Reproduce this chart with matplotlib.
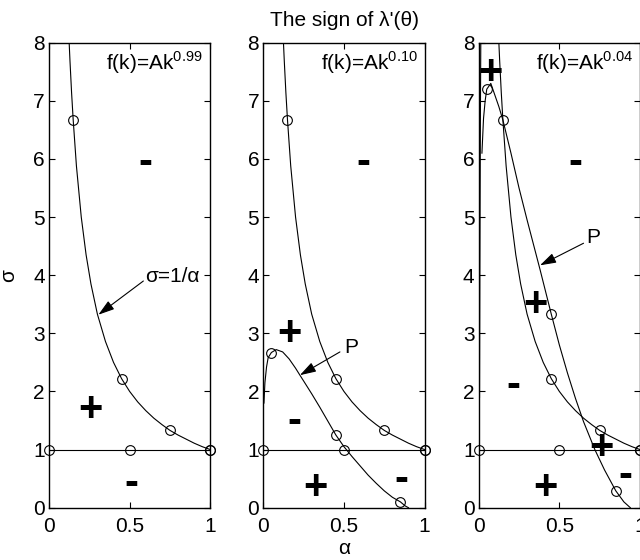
import matplotlib
matplotlib.use("Agg")
import matplotlib.pyplot as plt

plt.rcParams['font.family'] = ['Liberation Sans', 'DejaVu Sans']
plt.rcParams['mathtext.fontset'] = 'custom'
plt.rcParams['mathtext.rm'] = 'Liberation Sans'

# ---------------- data ----------------
alpha_ticks = [0, 0.5, 1]
alpha_tick_labels = ['0', '0.5', '1']
sigma_ticks = [0, 1, 2, 3, 4, 5, 6, 7, 8]
exponents = ['0.99', '0.10', '0.04']

# sigma = 1/alpha boundary (same in all panels)
inv_alpha = [0.125, 0.13, 0.14, 0.15, 0.17, 0.2, 0.23, 0.26, 0.3, 0.35, 0.4, 0.45,
             0.5, 0.55, 0.6, 0.65, 0.7, 0.75, 0.8, 0.85, 0.9, 0.95, 1.0]
inv_sigma = [8.0, 7.69, 7.14, 6.67, 5.88, 5.0, 4.35, 3.85, 3.33, 2.86, 2.5, 2.22,
             2.0, 1.82, 1.67, 1.54, 1.43, 1.33, 1.25, 1.18, 1.11, 1.05, 1.0]
inv_mark_alpha = [0.15, 0.45, 0.75, 1.0]
inv_mark_sigma = [6.67, 2.22, 1.33, 1.0]

# sigma = 1 horizontal line
one_alpha = [0.0, 1.0]
one_sigma = [1.0, 1.0]
one_mark_alpha = [0.0, 0.5, 1.0]
one_mark_sigma = [1.0, 1.0, 1.0]

# curve P, exponent 0.10
p2_alpha = [0.004, 0.01, 0.02, 0.03, 0.05, 0.08, 0.12, 0.16, 0.2, 0.227, 0.25, 0.3,
            0.35, 0.4, 0.45, 0.5, 0.55, 0.6, 0.65, 0.7, 0.75, 0.8, 0.85, 0.88, 0.9]
p2_sigma = [1.8, 2.15, 2.42, 2.58, 2.67, 2.72, 2.68, 2.56, 2.4, 2.28, 2.18, 1.96,
            1.73, 1.49, 1.25, 1.05, 0.88, 0.72, 0.56, 0.42, 0.29, 0.18, 0.1, 0.03, 0.0]
p2_mark_alpha = [0.05, 0.45, 0.85]
p2_mark_sigma = [2.67, 1.25, 0.1]

# curve P, exponent 0.04
p3_alpha = [0.02, 0.03, 0.04, 0.05, 0.075, 0.1, 0.125, 0.15, 0.2, 0.25, 0.3, 0.38,
            0.45, 0.5, 0.55, 0.6, 0.65, 0.72, 0.78, 0.85, 0.9, 0.94]
p3_sigma = [6.1, 6.7, 7.0, 7.2, 7.3, 7.1, 6.9, 6.67, 6.1, 5.5, 4.95, 4.1,
            3.33, 2.8, 2.32, 1.88, 1.48, 1.0, 0.65, 0.29, 0.1, 0.0]
p3_mark_alpha = [0.05, 0.45, 0.85]
p3_mark_sigma = [7.2, 3.33, 0.29]
# steep branch hugging the left axis, exponent 0.04
s3_alpha = [0.005, 0.007, 0.009, 0.011, 0.013]
s3_sigma = [1.9, 4.0, 5.6, 7.0, 8.0]

# sign labels: (alpha, sigma, sign)
signs1 = [(0.595, 6.0, '-'), (0.254, 1.75, '+'), (0.513, 0.49, '-')]
signs2 = [(0.62, 6.0, '-'), (0.165, 3.07, '+'), (0.19, 1.56, '-'),
          (0.326, 0.42, '+'), (0.856, 0.56, '-')]
signs3 = [(0.074, 7.56, '+'), (0.597, 6.0, '-'), (0.349, 3.57, '+'),
          (0.215, 2.17, '-'), (0.763, 1.11, '+'), (0.907, 0.63, '-'),
          (0.415, 0.42, '+')]

# ---------------- figure ----------------
W, H = 640, 560
fig = plt.figure(figsize=(6.4, 5.6), dpi=100)
ax_b = (560 - 507.7) / H
ax_h = (507.7 - 42.7) / H
ax_w = 161.3 / W
lefts = [49 / W, 263.3 / W, 478.7 / W]
axes = [fig.add_axes([l, ax_b, ax_w, ax_h]) for l in lefts]

FS = 15
lw = 0.8

def style(ax):
    ax.set_xlim(0, 1)
    ax.set_ylim(0, 8)
    ax.set_xticks(alpha_ticks)
    ax.set_xticklabels(alpha_tick_labels)
    ax.set_yticks(sigma_ticks)
    ax.set_yticklabels([str(v) for v in sigma_ticks])
    ax.tick_params(direction='in', top=True, right=True, length=4, width=0.8,
                   labelsize=FS)
    ax.tick_params(axis='x', pad=7)
    ax.tick_params(axis='y', pad=3)
    for s in ax.spines.values():
        s.set_linewidth(1.0)

def marks(ax, xs, ys):
    ax.plot(xs, ys, linestyle='none', marker='o', markersize=7,
            markerfacecolor='none', markeredgecolor='k', markeredgewidth=0.8,
            clip_on=False, zorder=4)

def put_signs(ax, signs):
    for a, s, ch in signs:
        ax.text(a, s, ch, fontsize=30, fontweight='bold', ha='center',
                va='center_baseline', color='k', zorder=5)

for ax, ex in zip(axes, exponents):
    style(ax)
    ax.plot(inv_alpha, inv_sigma, color='k', lw=lw)
    ax.plot(one_alpha, one_sigma, color='k', lw=lw)
    marks(ax, inv_mark_alpha, inv_mark_sigma)
    marks(ax, one_mark_alpha, one_mark_sigma)
    ax.text(0.955, 7.53, r'f(k)=Ak$^{\mathregular{' + ex + '}}$', fontsize=FS,
            ha='right', va='baseline')

# panel 2 P
axes[1].plot(p2_alpha, p2_sigma, color='k', lw=lw)
marks(axes[1], p2_mark_alpha, p2_mark_sigma)
# panel 3 P
axes[2].plot(p3_alpha, p3_sigma, color='k', lw=lw)
axes[2].plot(s3_alpha, s3_sigma, color='k', lw=lw)
marks(axes[2], p3_mark_alpha, p3_mark_sigma)

put_signs(axes[0], signs1)
put_signs(axes[1], signs2)
put_signs(axes[2], signs3)

arrow_kw = dict(arrowstyle='-|>,head_length=0.7,head_width=0.22', color='k',
                lw=0.8, shrinkA=0, shrinkB=0, mutation_scale=14)
axes[0].annotate('', xy=(0.306, 3.32), xytext=(0.585, 3.9), arrowprops=arrow_kw)
axes[0].text(0.595, 3.97, 'σ=1/α', fontsize=FS, ha='left', va='center')
axes[1].annotate('', xy=(0.227, 2.28), xytext=(0.475, 2.68), arrowprops=arrow_kw)
axes[1].text(0.547, 2.76, 'P', fontsize=FS, ha='center', va='center')
axes[2].annotate('', xy=(0.38, 4.17), xytext=(0.65, 4.55), arrowprops=arrow_kw)
axes[2].text(0.71, 4.65, 'P', fontsize=FS, ha='center', va='center')

axes[0].set_ylabel('σ', fontsize=FS)
axes[0].yaxis.set_label_coords(-0.19, 0.5)

fig.text(344 / W, 1 - 20 / H, "The sign of λ'(θ)", fontsize=FS, ha='center',
         va='center')
fig.text(344 / W, 6 / H, 'α', fontsize=FS, ha='center', va='baseline')

fig.savefig('out.png', dpi=100)
